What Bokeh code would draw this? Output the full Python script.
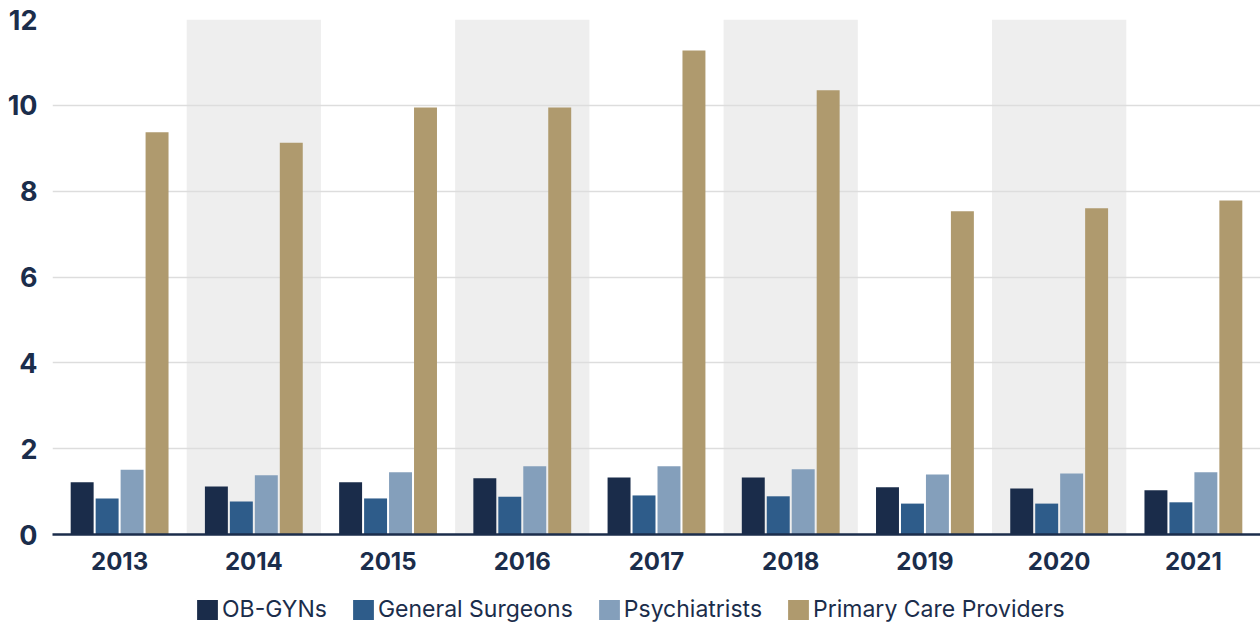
from bokeh.plotting import figure
from bokeh.layouts import column
from bokeh.models import ColumnDataSource, FactorRange, Range1d, FixedTicker, Legend, LegendItem
from bokeh.transform import dodge
from bokeh.embed import file_html
from bokeh.resources import INLINE

years = ["2013", "2014", "2015", "2016", "2017", "2018", "2019", "2020", "2021"]
ob_gyns = [1.22, 1.12, 1.22, 1.31, 1.33, 1.33, 1.10, 1.07, 1.03]
general_surgeons = [0.84, 0.77, 0.84, 0.88, 0.91, 0.89, 0.72, 0.72, 0.75]
psychiatrists = [1.51, 1.38, 1.45, 1.59, 1.59, 1.52, 1.40, 1.42, 1.45]
primary_care = [9.37, 9.13, 9.95, 9.95, 11.28, 10.35, 7.53, 7.60, 7.78]
y_ticks = [0, 2, 4, 6, 8, 10, 12]

series_names = ["OB-GYNs", "General Surgeons", "Psychiatrists", "Primary Care Providers"]
series_keys = ["ob", "gs", "psy", "pcp"]
colors = ["#1a2c4a", "#2e5c8a", "#849fbb", "#af9a6e"]
offsets = [-0.279, -0.093, 0.093, 0.279]

NAVY = "#1b2d4b"
W = 1260

src = ColumnDataSource(dict(year=years, ob=ob_gyns, gs=general_surgeons,
                            psy=psychiatrists, pcp=primary_care))

p = figure(width=W, height=594, output_backend="svg", toolbar_location=None,
           x_range=FactorRange(factors=years, range_padding=0),
           y_range=Range1d(0, max(y_ticks)),
           min_border_left=52, min_border_right=0, min_border_top=19, min_border_bottom=60)
p.outline_line_color = None

# alternating background bands
band_years = years[1::2]
p.vbar(x=band_years, top=[max(y_ticks)] * len(band_years), bottom=0, width=1.0,
       fill_color="#eeeeee", line_color=None, level="image")

for key, name, col, off in zip(series_keys, series_names, colors, offsets):
    p.vbar(x=dodge("year", off, range=p.x_range), top=key, width=0.171, source=src,
           fill_color=col, line_color=None)

# grids
p.xgrid.grid_line_color = None
p.ygrid.grid_line_color = "#dddddd"
p.ygrid.grid_line_width = 1.5
p.yaxis.ticker = FixedTicker(ticks=y_ticks)

# y axis
p.yaxis.axis_line_color = None
p.yaxis.major_tick_line_color = None
p.yaxis.minor_tick_line_color = None
p.yaxis.major_label_text_font = "Inter"
p.yaxis.major_label_text_font_style = "bold"
p.yaxis.major_label_text_font_size = "27px"
p.yaxis.major_label_text_color = NAVY
p.yaxis.major_label_standoff = 9

# x axis
p.xaxis.axis_line_color = NAVY
p.xaxis.axis_line_width = 2.5
p.xaxis.major_tick_line_color = None
p.xaxis.minor_tick_line_color = None
p.xaxis.major_label_text_font = "Inter"
p.xaxis.major_label_text_font_style = "bold"
p.xaxis.major_label_text_font_size = "24px"
p.xaxis.major_label_text_color = NAVY
p.xaxis.major_label_standoff = 11

# legend strip (legend proxies are zero-size bars)
lg = figure(width=W, height=30, output_backend="svg", toolbar_location=None,
            x_axis_type=None, y_axis_type=None, min_border=0,
            x_range=Range1d(0, 1), y_range=Range1d(0, 1))
lg.outline_line_color = None
lg.grid.visible = False
items = []
for name, col in zip(series_names, colors):
    r = lg.vbar(x=[0], top=[0], bottom=[0], width=0, fill_color=col, line_color=None)
    items.append(LegendItem(label=name, renderers=[r]))
legend = Legend(items=items, orientation="horizontal", location=(142, 1),
                glyph_width=26, glyph_height=25, label_standoff=2, spacing=23,
                label_text_font="Inter", label_text_font_size="23px",
                label_text_color=NAVY, border_line_color=None,
                background_fill_alpha=0, margin=0, padding=0)
lg.add_layout(legend, "center")

layout = column(p, lg, spacing=0)
open("out.html", "w").write(file_html(layout, INLINE))
